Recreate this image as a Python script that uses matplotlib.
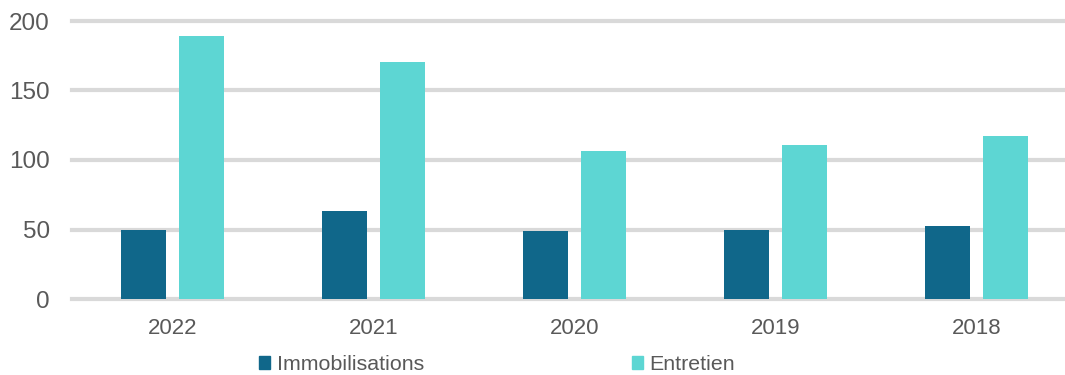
import matplotlib
matplotlib.use("Agg")
import matplotlib.pyplot as plt
import numpy as np
from matplotlib.patches import Patch

years = ["2022", "2021", "2020", "2019", "2018"]
immobilisations = [50, 63.5, 49, 50, 52.5]
entretien = [189, 170.5, 106.5, 111, 117.5]
series_names = ["Immobilisations", "Entretien"]
yticks = [0, 50, 100, 150, 200]

c_dark = "#10678a"
c_light = "#5dd6d3"
grid_c = "#d9d9d9"
txt_c = "#595959"

plt.rcParams['font.family'] = ['Liberation Sans', 'DejaVu Sans']

fig = plt.figure(figsize=(10.65, 3.75), dpi=100)
ax = fig.add_axes([72/1065, 76/375, 1005/1065, 278/375])

x = np.arange(len(years))
w = 0.224
off = 0.142
ax.bar(x - off, immobilisations, w, color=c_dark, zorder=3)
ax.bar(x + off, entretien, w, color=c_light, zorder=3)

ax.set_xlim(-0.5, len(years) - 0.5)
ax.set_ylim(0, 200)
ax.set_yticks(yticks)
ax.set_xticks(x)
ax.set_xticklabels(years)
ax.tick_params(axis='both', length=0, labelcolor=txt_c)
ax.tick_params(axis='x', pad=14, labelsize=16)
ax.tick_params(axis='y', pad=16, labelsize=17.5)
for s in ax.spines.values():
    s.set_visible(False)
ax.set_axisbelow(True)
ax.yaxis.grid(True, color=grid_c, linewidth=3)
for ln in ax.get_ygridlines():
    ln.set_clip_on(False)

handles = [Patch(color=c_dark, label=series_names[0]),
           Patch(color=c_light, label=series_names[1])]
fig.legend(handles=handles, loc='center', bbox_to_anchor=(497/1065, 10/375),
           ncol=2, frameon=False, fontsize=15.4, labelcolor=txt_c,
           handlelength=0.55, handleheight=0.55, handletextpad=0.3,
           columnspacing=9.7, borderpad=0)

fig.savefig("out.png", dpi=100)
